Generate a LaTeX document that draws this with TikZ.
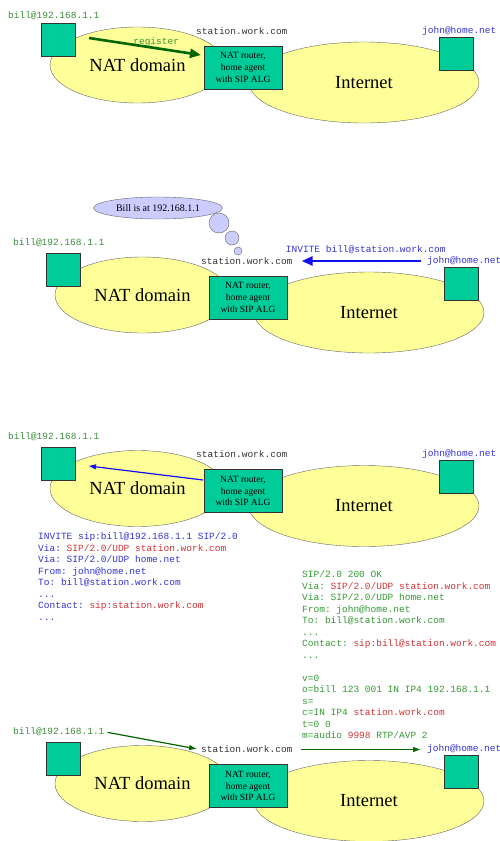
\documentclass[tikz,border=0pt]{standalone}
\usepackage{fontspec}
\setmainfont{Liberation Serif}
\setmonofont{Liberation Mono}
\usetikzlibrary{
  arrows.meta,
  positioning,
  shapes.geometric
}
\definecolor{cloudfill}{HTML}{FFFF99}
\definecolor{rim}{HTML}{666666}
\definecolor{hostgreen}{HTML}{00CC99}
\definecolor{bubblefill}{HTML}{CCCCFF}
\definecolor{billgreen}{HTML}{3C8C3C}
\definecolor{msgblue}{HTML}{3333CC}
\definecolor{msgred}{HTML}{CC3333}
\definecolor{okgreen}{HTML}{339933}
\definecolor{arrowgreen}{HTML}{006600}
\definecolor{arrowblue}{HTML}{1111EE}
\definecolor{stationgray}{HTML}{333333}
\newcommand{\hl}[1]{\textcolor{msgred}{#1}}
\tikzset{
  cloudarea/.style={
    ellipse,
    draw=rim,
    fill=cloudfill,
    inner sep=0pt,
    font=\fontsize{18.5}{20}\selectfont
  },
  host/.style={
    draw=black!80,
    fill=hostgreen,
    minimum width=34pt,
    minimum height=33pt,
    inner sep=0pt
  },
  router/.style={
    draw=black!80,
    fill=hostgreen,
    minimum width=78pt,
    minimum height=43pt,
    inner sep=0pt,
    align=center,
    font=\fontsize{9.5}{11.7}\selectfont
  },
  addr/.style={
    anchor=west,
    inner sep=1pt,
    font=\ttfamily\fontsize{9.5}{11.5}\selectfont
  },
  msgtext/.style={
    anchor=north west,
    inner sep=0pt,
    align=left,
    font=\ttfamily\fontsize{9.5}{11.5}\selectfont
  },
  thought/.style={
    draw=rim,
    fill=bubblefill,
    inner sep=0pt
  },
  bigarrow/.style={
    -{Triangle[length=11pt,width=9pt]},
    line width=2.6pt
  },
  thinarrow/.style={
    -{Triangle[length=7pt,width=5pt]},
    line width=1.2pt
  }
}

\begin{document}
\begin{tikzpicture}[x=1pt, y=-1pt]
  \useasboundingbox (0,0) rectangle (500,841);

  % the same network in all four panels
  \foreach \i/\dx/\dy/\ly in {1/0/0/16, 2/5/230/13, 3/0/423.5/13.5, 4/5/718.5/13.5} {
    \begin{scope}[shift={(\dx,\dy)}]
      \node[cloudarea, minimum width=175pt, minimum height=76pt] (nat\i)
        at (137.5,65) {NAT domain};
      \node[cloudarea, minimum width=230pt, minimum height=81pt] (inet\i)
        at (364,82.5) {Internet};
      \node[host] (bill\i) at (58,40) {};
      \node[host] (john\i) at (456,53.5) {};
      \node[router] (router\i) at (243,67.5) {NAT router,\\home agent\\with SIP ALG};
      \node[addr, text=billgreen] (billlbl\i) at (7,\ly) {bill@192.168.1.1};
      \node[addr, text=stationgray] (station\i) at (195,31) {station.work.com};
      \node[addr, text=msgblue] (johnlbl\i) at (421,31) {john@home.net};
    \end{scope}
  }

  % panel 1: register
  \coordinate (regfrom) at (89,38);
  \coordinate (regto) at (201,55);
  \draw[bigarrow, arrowgreen] (regfrom) --
    node[pos=0.6, above=-1pt, addr, anchor=south, text=okgreen] {register} (regto);

  % panel 2: location and INVITE
  \node[thought, ellipse, minimum width=129pt, minimum height=22pt,
    font=\fontsize{10}{12}\selectfont] (where) at (158,208) {Bill is at 192.168.1.1};
  \node[thought, circle, minimum size=20pt] (puff1) at (219,223) {};
  \node[thought, circle, minimum size=14pt] (puff2) at (232,238) {};
  \node[thought, circle, minimum size=8pt] (puff3) at (238,251) {};
  \draw[bigarrow, arrowblue, shorten <=5pt, shorten >=8pt] (johnlbl2.west) --
    node[midway, above=5pt, addr, anchor=south, text=msgblue, xshift=6pt]
      {INVITE bill@station.work.com} (station2.east);

  % panel 3: forwarded INVITE and the answer
  \coordinate (fwdfrom) at (203,480);
  \coordinate (fwdto) at (89,466);
  \draw[thinarrow, arrowblue] (fwdfrom) -- (fwdto);
  \node[msgtext, text=msgblue] (invite) at (38,532.5) {INVITE sip:bill@192.168.1.1 SIP/2.0\\
    Via: \hl{SIP/2.0/UDP station.work.com}\\
    Via: SIP/2.0/UDP home.net\\
    From: john@home.net\\
    To: bill@station.work.com\\
    ...\\
    Contact: \hl{sip:station.work.com}\\
    ...};
  \node[msgtext, text=okgreen] (ok) at (302,570.5) {SIP/2.0 200 OK\\
    Via: \hl{SIP/2.0/UDP station.work.com}\\
    Via: SIP/2.0/UDP home.net\\
    From: john@home.net\\
    To: bill@station.work.com\\
    ...\\
    Contact: \hl{sip:bill@station.work.com}\\
    ...\\
    \mbox{}\\
    v=0\\
    o=bill 123 001 IN IP4 192.168.1.1\\
    s=\\
    c=IN IP4 \hl{station.work.com}\\
    t=0 0\\
    m=audio \hl{9998} RTP/AVP 2};

  % panel 4: 200 OK path
  \draw[thinarrow, arrowgreen, shorten <=2pt, shorten >=4pt] (billlbl4.east) -- (station4.west);
  \draw[thinarrow, arrowgreen, shorten <=7pt, shorten >=6pt] (station4.east) -- (johnlbl4.west);
\end{tikzpicture}
\end{document}
